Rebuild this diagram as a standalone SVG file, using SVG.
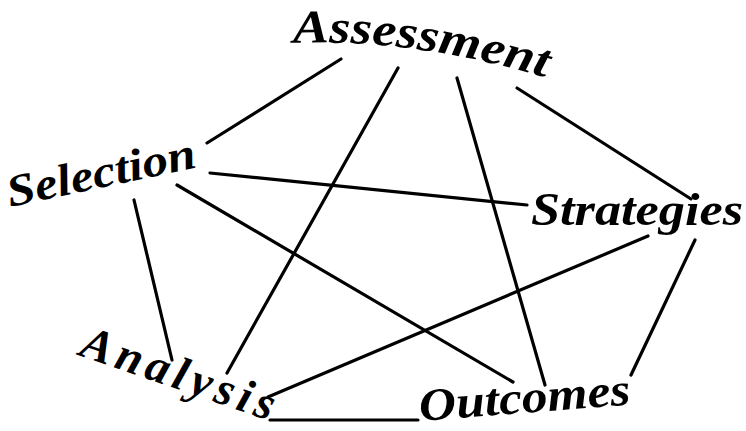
<svg xmlns="http://www.w3.org/2000/svg" width="746" height="431" viewBox="0 0 746 431">
  <style>
    .lbl { font-family: "Liberation Serif", "DejaVu Serif", serif; font-style: italic; font-weight: bold; fill: #000; }
    .edge { stroke: #000; stroke-width: 3.2; stroke-linecap: round; fill: none; }
  </style>
  <defs>
    <path id="pA" d="M293,43 Q420,38 560,82"/>
  </defs>
  <rect width="746" height="431" fill="#fff"/>
  <g id="connectors">
    <line class="edge" x1="341" y1="59" x2="207" y2="143"/>
    <line class="edge" x1="398" y1="68" x2="227" y2="373"/>
    <line class="edge" x1="457" y1="78" x2="545" y2="385"/>
    <line class="edge" x1="517" y1="88" x2="691" y2="199"/>
    <line class="edge" x1="210" y1="173" x2="527" y2="205"/>
    <line class="edge" x1="177" y1="185" x2="513" y2="382"/>
    <line class="edge" x1="134" y1="200" x2="172" y2="360"/>
    <line class="edge" x1="268" y1="397" x2="648" y2="236"/>
    <line class="edge" x1="695" y1="240" x2="631" y2="375"/>
    <line class="edge" x1="270" y1="420" x2="418" y2="420"/>
  </g>
  <g id="assessment">
    <text class="lbl" font-size="47"><textPath href="#pA" textLength="256" lengthAdjust="spacingAndGlyphs">Assessment</textPath></text>
  </g>
  <g id="selection">
    <text class="lbl" font-size="45" x="10" y="207" textLength="192" lengthAdjust="spacingAndGlyphs" transform="rotate(-12 10 207)">Selection</text>
  </g>
  <g id="strategies">
    <text class="lbl" font-size="46" x="531" y="225" textLength="212" lengthAdjust="spacingAndGlyphs">Strategies</text>
  </g>
  <g id="analysis">
    <text class="lbl" font-size="47" x="78" y="355" textLength="202" lengthAdjust="spacing" transform="rotate(19 78 355)">Analysis</text>
  </g>
  <g id="outcomes">
    <text class="lbl" font-size="46" x="420" y="421" textLength="212" lengthAdjust="spacingAndGlyphs" transform="rotate(-4.5 420 421)">Outcomes</text>
  </g>
</svg>
